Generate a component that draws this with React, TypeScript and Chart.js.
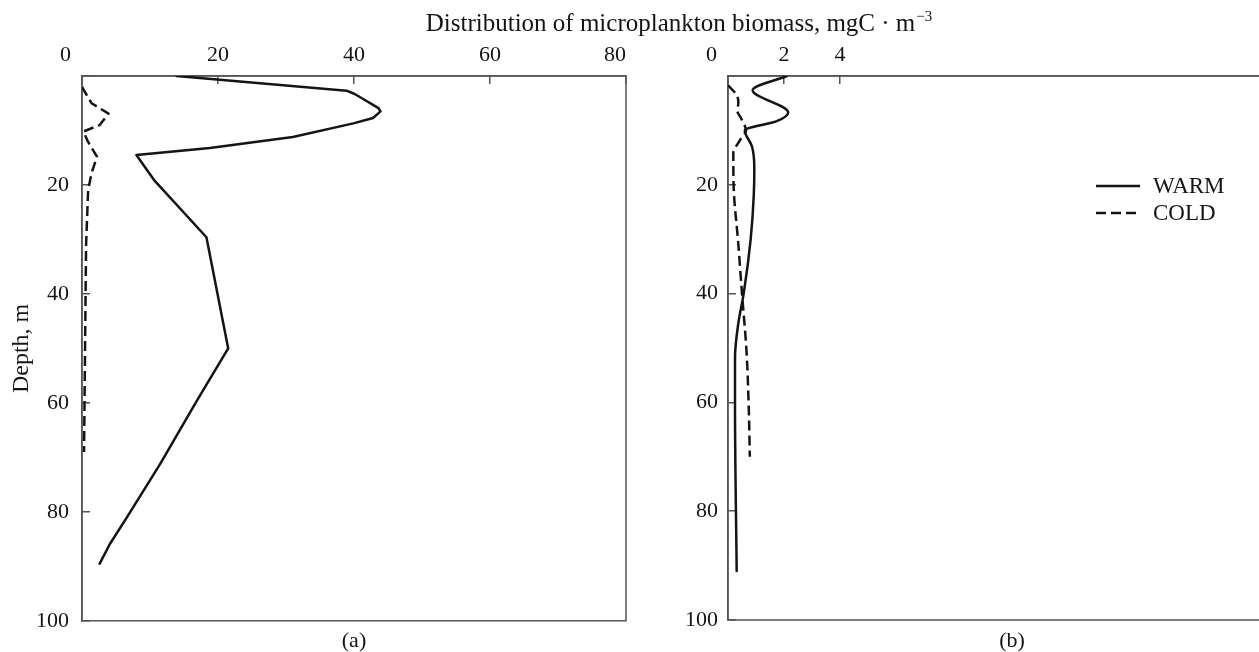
import React, { useEffect, useRef } from 'react';
import { Chart, registerables } from 'chart.js';

Chart.register(...registerables);

// ---------- data ----------
// Panel (a): biomass 0–80 mgC·m^-3 vs depth (m)
const warmADepth = [0, 2.7, 3.3, 4.4, 5.9, 6.5, 7.7, 8.7, 11.2, 13.2, 14.5, 19.1, 29.6, 50, 59.6, 71.2, 81, 85.9, 89.5];
const warmAValue = [13.9, 38.9, 40.1, 41.6, 43.6, 43.9, 42.8, 39.9, 31, 18.8, 8, 10.6, 18.3, 21.5, 16.9, 11.5, 6.6, 4.1, 2.6];
const coldADepth = [2, 5, 6.9, 9, 10.2, 12.1, 14.8, 17.9, 19.1, 21, 31, 50, 69];
const coldAValue = [0, 1.4, 3.9, 2.6, 0.2, 0.9, 2.2, 1.4, 1.2, 0.9, 0.6, 0.45, 0.3];

// Panel (b): biomass 0–20 mgC·m^-3 vs depth (m)
const warmBDepth = [0, 2.6, 6.7, 8.3, 10, 13, 17, 22, 30, 40, 45.4, 51.8, 60.4, 91];
const warmBValue = [2.1, 0.88, 2.15, 1.74, 0.6, 0.86, 0.94, 0.92, 0.81, 0.56, 0.37, 0.25, 0.25, 0.31];
const coldBDepth = [1.7, 3.5, 5, 6.3, 8, 10, 11.8, 14.2, 20, 31, 40, 50.5, 60.8, 70];
const coldBValue = [0, 0.31, 0.37, 0.33, 0.49, 0.64, 0.43, 0.19, 0.2, 0.37, 0.5, 0.66, 0.74, 0.78];

const seriesNames = ['WARM', 'COLD'];
const xTicksA = [0, 20, 40, 60, 80];
const xTicksB = [0, 2, 4];
const depthTicks = [0, 20, 40, 60, 80, 100];

const titleText = 'Distribution of microplankton biomass, mgC · m';
const titleSup = '−3';
const yTitle = 'Depth, m';
const panelLabels = ['(a)', '(b)'];

// ---------- styles ----------
const FONT = "'Liberation Serif', 'Times New Roman', serif";
const INK = '#141414';
const FRAME = '#555555';

Chart.defaults.font.family = FONT;
Chart.defaults.color = INK;

const pts = (xs: number[], ys: number[]) => xs.map((x, i) => ({ x, y: ys[i] }));

const framePlugin = {
  id: 'frameBox',
  beforeDatasetsDraw(chart: any) {
    const { ctx, chartArea: a } = chart;
    ctx.save();
    ctx.strokeStyle = FRAME;
    ctx.lineWidth = 1.5;
    ctx.strokeRect(a.left, a.top, a.right - a.left, a.bottom - a.top);
    ctx.restore();
  },
};

const legendPlugin = {
  id: 'lineLegend',
  afterDraw(chart: any) {
    const { ctx } = chart;
    const x0 = 456;
    const x1 = 500;
    const tx = 513;
    const rows = [186, 213];
    chart.data.datasets.forEach((ds: any, i: number) => {
      const y = rows[i];
      ctx.save();
      ctx.strokeStyle = ds.borderColor;
      ctx.lineWidth = ds.borderWidth;
      ctx.setLineDash(ds.borderDash || []);
      ctx.beginPath();
      ctx.moveTo(x0, y);
      ctx.lineTo(x1, y);
      ctx.stroke();
      ctx.setLineDash([]);
      ctx.fillStyle = INK;
      ctx.font = `23px ${FONT}`;
      ctx.textBaseline = 'middle';
      ctx.fillText(ds.label, tx, y + 1);
      ctx.restore();
    });
  },
};

function xLabel(v: number, first: number, last: number) {
  if (v === first) return String(v) + '\u2003\u2002';
  if (v === last) return String(v) + '\u2003';
  return String(v);
}

function makeConfig(panel: 'a' | 'b'): any {
  const isA = panel === 'a';
  const warm = isA ? pts(warmAValue, warmADepth) : pts(warmBValue, warmBDepth);
  const cold = isA ? pts(coldAValue, coldADepth) : pts(coldBValue, coldBDepth);
  const xt = isA ? xTicksA : xTicksB;
  const common = {
    borderColor: INK,
    borderWidth: 2.5,
    pointRadius: 0,
    pointHoverRadius: 0,
    fill: false,
    borderJoinStyle: 'round',
    tension: isA ? 0 : 0.4,
    cubicInterpolationMode: isA ? 'default' : 'monotone',
  };
  const gridOpts = {
    display: true,
    drawOnChartArea: false,
    drawTicks: true,
    tickLength: -8,
    color: FRAME,
    lineWidth: 1.5,
  };
  return {
    type: 'line',
    data: {
      datasets: [
        { ...common, label: seriesNames[0], data: warm, borderCapStyle: 'round' },
        { ...common, label: seriesNames[1], data: cold, borderDash: [10, 5], borderCapStyle: 'butt' },
      ],
    },
    options: {
      responsive: false,
      animation: false,
      indexAxis: 'y',
      events: [],
      layout: { padding: { left: 0, top: 0, right: 32, bottom: 32 } },
      plugins: { legend: { display: false }, tooltip: { enabled: false }, title: { display: false } },
      scales: {
        x: {
          type: 'linear',
          position: 'top',
          min: 0,
          max: isA ? 80 : 20,
          afterBuildTicks: (s: any) => {
            s.ticks = xt.map((value) => ({ value }));
          },
          ticks: {
            padding: 16,
            color: INK,
            autoSkip: false,
            maxRotation: 0,
            font: { family: FONT, size: 22 },
            callback: (v: any) => xLabel(Number(v), xt[0], isA ? xt[xt.length - 1] : -1),
          },
          grid: gridOpts,
          border: { display: true, color: FRAME, width: 1.5 },
          afterFit: (s: any) => {
            s.height = 76;
          },
        },
        y: {
          type: 'linear',
          reverse: true,
          min: 0,
          max: 100,
          afterBuildTicks: (s: any) => {
            s.ticks = depthTicks.map((value) => ({ value }));
          },
          ticks: {
            padding: isA ? 21 : 18,
            color: INK,
            autoSkip: false,
            font: { family: FONT, size: 22 },
            callback: (v: any) => (Number(v) === 0 ? '' : String(v)),
          },
          grid: gridOpts,
          border: { display: true, color: FRAME, width: 1.5 },
          title: isA
            ? { display: true, text: yTitle, color: INK, font: { family: FONT, size: 24 }, padding: { top: 7, bottom: 0 } }
            : { display: false },
          afterFit: (s: any) => {
            s.width = isA ? 82 : 88;
          },
        },
      },
    },
    plugins: isA ? [framePlugin] : [framePlugin, legendPlugin],
  };
}

export default function App() {
  const refA = useRef<HTMLCanvasElement | null>(null);
  const refB = useRef<HTMLCanvasElement | null>(null);

  useEffect(() => {
    const a = new Chart(refA.current as HTMLCanvasElement, makeConfig('a'));
    const b = new Chart(refB.current as HTMLCanvasElement, makeConfig('b'));
    return () => {
      a.destroy();
      b.destroy();
    };
  }, []);

  return (
    <div
      style={{
        position: 'fixed',
        left: 0,
        top: 0,
        width: 1259,
        height: 652,
        overflow: 'hidden',
        background: '#ffffff',
        fontFamily: FONT,
        color: INK,
      }}
    >
      <div style={{ position: 'absolute', left: 0, top: 0, width: 664, height: 655 }}>
        <canvas ref={refA} width={664} height={655} style={{ width: 664, height: 655, display: 'block' }} />
      </div>
      <div style={{ position: 'absolute', left: 640, top: 0, width: 680, height: 652 }}>
        <canvas ref={refB} width={680} height={652} style={{ width: 680, height: 652, display: 'block' }} />
      </div>
      <div
        style={{
          position: 'absolute',
          left: 679,
          top: 10,
          transform: 'translateX(-50%)',
          whiteSpace: 'nowrap',
          fontSize: 25,
          lineHeight: '25px',
        }}
      >
        {titleText}
        <span style={{ fontSize: 15, position: 'relative', top: -10, lineHeight: 0, marginLeft: 1 }}>{titleSup}</span>
      </div>
      <div
        style={{
          position: 'absolute',
          left: 354,
          top: 629,
          transform: 'translateX(-50%)',
          fontSize: 22,
          lineHeight: '22px',
          whiteSpace: 'nowrap',
        }}
      >
        {panelLabels[0]}
      </div>
      <div
        style={{
          position: 'absolute',
          left: 1012,
          top: 629,
          transform: 'translateX(-50%)',
          fontSize: 22,
          lineHeight: '22px',
          whiteSpace: 'nowrap',
        }}
      >
        {panelLabels[1]}
      </div>
    </div>
  );
}
